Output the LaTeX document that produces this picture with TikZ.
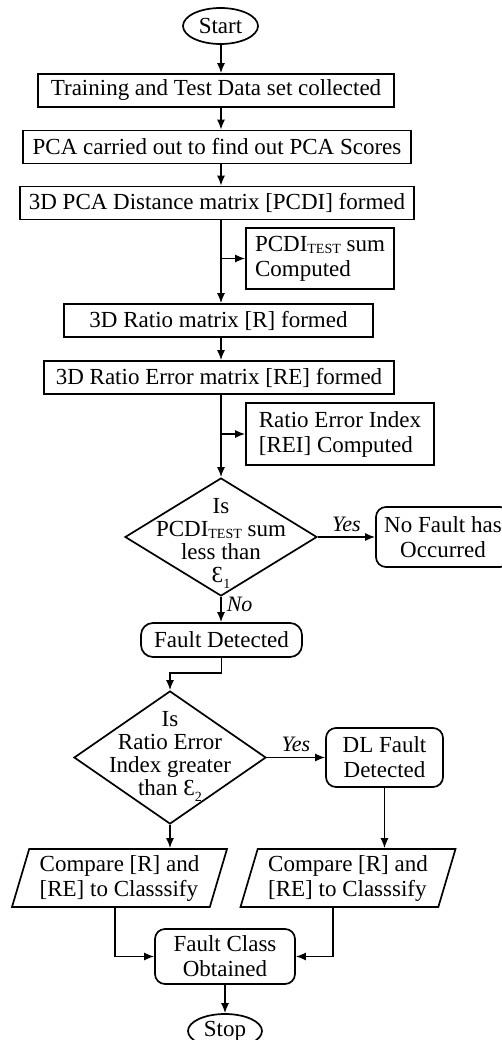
\documentclass[tikz,border=0pt]{standalone}
\usepackage{fontspec}
\setmainfont{Liberation Serif}
\usetikzlibrary{shapes.geometric,arrows.meta,positioning}

% small subscript text and threshold symbol
\newcommand{\tst}{\raisebox{-2pt}{\fontsize{14}{14}\selectfont TEST}}
\newcommand{\epsi}[1]{Ɛ\raisebox{-6pt}{\fontsize{14}{14}\selectfont #1}}

\begin{document}
\begin{tikzpicture}[x=1pt, y=-1pt,
    every node/.style={font=\fontsize{23}{25}\selectfont},
    base/.style={draw, line width=1.7pt, inner sep=2pt},
    process/.style={base, rectangle, minimum height=33pt},
    sidebox/.style={base, rectangle, align=left, inner xsep=9pt},
    roundbox/.style={base, rectangle, rounded corners=10pt, align=center},
    terminal/.style={base, ellipse, inner sep=0pt, minimum width=75pt, minimum height=36pt},
    decision/.style={base, diamond, inner sep=0pt},
    io/.style={base, trapezium, trapezium left angle=71, trapezium right angle=109,
      trapezium stretches body, minimum width=215pt, minimum height=58pt, align=left},
    arr/.style={-{Latex[length=10pt,width=8pt]}, line width=1.5pt},
    tag/.style={font=\fontsize{22}{22}\selectfont\itshape, inner sep=5pt}
  ]
  \useasboundingbox (0,0) rectangle (502,1040);
  \coordinate (spine) at (221,0);

  % main column
  \node[terminal] (start) at (220.5,26) {Start};
  \node[process, minimum width=356pt] (collect) at (216,90.5) {Training and Test Data set collected};
  \node[process, minimum width=388pt] (pca) at (217,147) {PCA carried out to find out PCA Scores};
  \node[process, minimum width=394pt] (pcdi) at (217,203) {3D PCA Distance matrix [PCDI] formed};
  \node[sidebox, minimum width=148pt, minimum height=61pt] (pcdisum) at (320,258.5) {PCDI\tst{} sum\\Computed};
  \node[process, minimum width=309pt] (ratio) at (218.5,320.5) {3D Ratio matrix [R] formed};
  \node[process, minimum width=350pt] (ratioerr) at (219,377.5) {3D Ratio Error matrix [RE] formed};
  \node[sidebox, minimum width=188pt, minimum height=62pt] (rei) at (340,434) {Ratio Error Index\\{[REI]} Computed};

  % first check
  \node[decision, minimum width=192pt, minimum height=118pt,
    label={[align=center, yshift=-6pt, font=\fontsize{23}{23}\selectfont]center:Is\\PCDI\tst{} sum\\less than\\\epsi{1}}] (q1) at (221,537) {};
  \node[roundbox, minimum width=134pt, minimum height=60pt] (nofault) at (443,537) {No Fault has\\Occurred};
  \node[roundbox, rounded corners=12pt, minimum width=161pt, minimum height=34pt] (fdet) at (221.5,640) {Fault Detected};

  % second check
  \node[decision, minimum width=192pt, minimum height=133pt,
    label={[align=center, yshift=1pt, font=\fontsize{23}{23}\selectfont]center:Is\\Ratio Error\\Index greater\\than \epsi{2}}] (q2) at (170,757.5) {};
  \node[roundbox, minimum width=117pt, minimum height=59pt] (dlfault) at (384.5,757.5) {DL Fault\\Detected};

  % classification
  \node[io] (cmpL) at (119.5,878) {Compare [R] and\\{[RE]} to Classsify};
  \node[io] (cmpR) at (348,878) {Compare [R] and\\{[RE]} to Classsify};
  \node[roundbox, minimum width=140pt, minimum height=55pt] (fclass) at (225,956.5) {Fault Class\\Obtained};
  \node[terminal, minimum width=74pt, minimum height=34pt] (stop) at (225,1031) {Stop};
  \coordinate (leftdrop) at (115,0);
  \coordinate (rightdrop) at (333,0);

  % connectors
  \draw[arr] (start.south -| spine) -- (collect.north -| spine);
  \draw[arr] (collect.south -| spine) -- (pca.north -| spine);
  \draw[arr] (pca.south -| spine) -- (pcdi.north -| spine);
  \draw[arr] (pcdi.south -| spine) -- (ratio.north -| spine);
  \draw[arr] (pcdisum.west -| spine) -- (pcdisum.west);
  \draw[arr] (ratio.south -| spine) -- (ratioerr.north -| spine);
  \draw[arr] (ratioerr.south -| spine) -- (q1.north);
  \draw[arr] (rei.west -| spine) -- (rei.west);
  \draw[arr] (q1.east) -- (nofault.west) node[tag, midway, above] {Yes};
  \draw[arr] (q1.south) -- (q1.south |- fdet.north) node[tag, pos=0.3, right] {No};
  \draw[arr] (fdet.south) -- ++(0,15) -| (q2.north);
  \draw[arr] (q2.east) -- (dlfault.west) node[tag, midway, above] {Yes};
  \draw[arr] (q2.south) -- (q2.south |- cmpL.north);
  \draw[arr] (dlfault.south) -- (dlfault.south |- cmpR.north);
  \draw[arr] (cmpL.south -| leftdrop) |- (fclass.west);
  \draw[arr] (cmpR.south -| rightdrop) |- (fclass.east);
  \draw[arr] (fclass.south) -- (stop.north);
\end{tikzpicture}
\end{document}
